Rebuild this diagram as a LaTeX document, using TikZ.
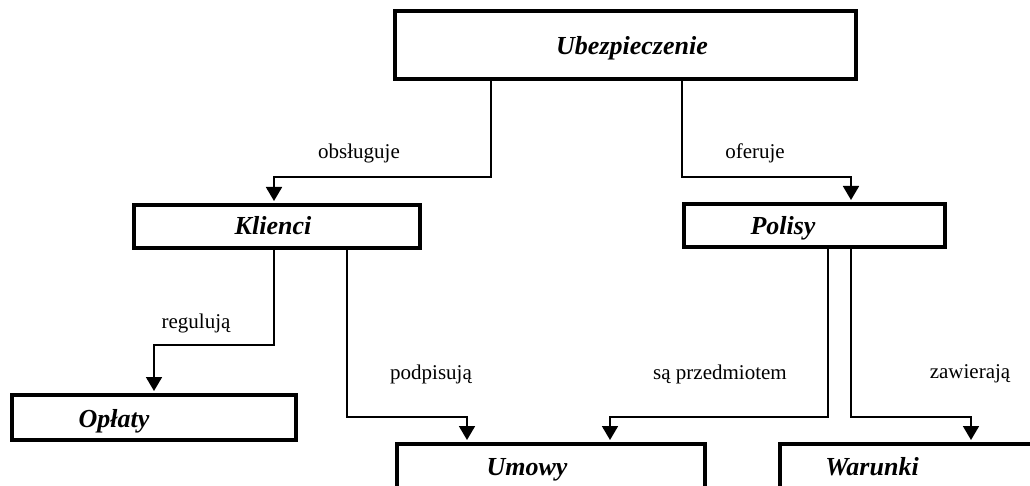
\documentclass[tikz,border=0pt]{standalone}
\usepackage{fontspec}
\setmainfont{Liberation Serif}
\usetikzlibrary{arrows.meta}
\begin{document}
\begin{tikzpicture}[x=1pt,y=-1pt,
  box/.style={draw, line width=4pt, rectangle, inner sep=0pt},
  title/.style={font=\fontsize{26}{30}\selectfont\bfseries\itshape, inner sep=0pt, anchor=base},
  rel/.style={font=\fontsize{21}{25}\selectfont, inner sep=0pt, anchor=base},
  link/.style={line width=1.8pt, shorten >=2pt, -{Triangle[width=16pt,length=14pt]}},
  ]
\useasboundingbox (0,0) rectangle (1030,486);

% boxes
\node[box, minimum width=461pt, minimum height=68pt] (U)  at (625.5,45)  {};
\node[box, minimum width=286pt, minimum height=43pt] (K)  at (277,226.5) {};
\node[box, minimum width=261pt, minimum height=43pt] (P)  at (814.5,225.5) {};
\node[box, minimum width=284pt, minimum height=45pt] (O)  at (154,417.5) {};
\node[box, minimum width=308pt, minimum height=45pt] (Um) at (551,466.5) {};
\node[box, minimum width=318pt, minimum height=45pt] (W)  at (939,466.5) {};

% box titles
\node[title] (tU) at (632,55)  {Ubezpieczenie};
\node[title] (tK) at (273,235) {Klienci};
\node[title] (tP) at (783,235) {Polisy};
\node[title] (tO) at (114,427) {Opłaty};
\node[title] (tM) at (527,475) {Umowy};
\node[title] (tW) at (872,475) {Warunki};

% connector columns and levels
\coordinate (a1) at (491,0);
\coordinate (a2) at (682,0);
\coordinate (k1) at (274,0);
\coordinate (k2) at (347,0);
\coordinate (p1) at (828,0);
\coordinate (p2) at (851,0);
\coordinate (m1) at (467,0);
\coordinate (m2) at (610,0);
\coordinate (w1) at (971,0);
\coordinate (h1) at (0,177);
\coordinate (h2) at (0,345);
\coordinate (h3) at (0,417);

% connectors
\draw[link] (U.south -| a1) -- (a1 |- h1) -| (K.north -| k1);
\draw[link] (U.south -| a2) -- (a2 |- h1) -| (P.north -| p2);
\draw[link] (K.south -| k1) -- (k1 |- h2) -| (O.north);
\draw[link] (K.south -| k2) -- (k2 |- h3) -| (Um.north -| m1);
\draw[link] (P.south -| p1) -- (p1 |- h3) -| (Um.north -| m2);
\draw[link] (P.south -| p2) -- (p2 |- h3) -| (W.north -| w1);

% relation labels
\node[rel] (l1) at (359,159) {obsługuje};
\node[rel] (l2) at (755,159) {oferuje};
\node[rel] (l3) at (196,328) {regulują};
\node[rel] (l4) at (431,379) {podpisują};
\node[rel] (l5) at (720,379) {są przedmiotem};
\node[rel] (l6) at (970,378) {zawierają};
\end{tikzpicture}
\end{document}
